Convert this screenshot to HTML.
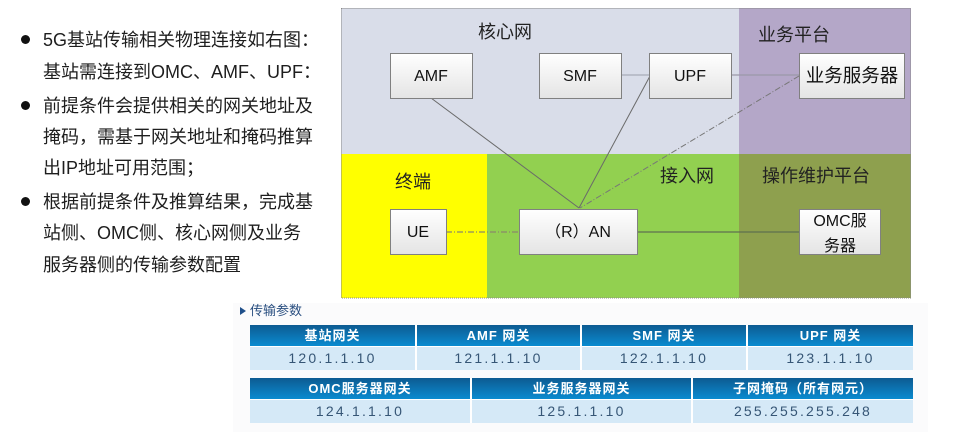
<!DOCTYPE html>
<html>
<head>
<meta charset="utf-8">
<style>
  html,body{margin:0;padding:0;}
  body{width:956px;height:437px;position:relative;background:#fff;overflow:hidden;
       font-family:"Liberation Sans","Noto Sans CJK SC",sans-serif;}
  .bl{position:absolute;left:43px;font-size:18px;color:#1e1e1e;line-height:20px;white-space:nowrap;
      font-family:"Liberation Sans","Noto Sans CJK SC",sans-serif;}
  .dot{position:absolute;left:21px;width:9px;height:9px;border-radius:50%;background:#111;}
  .wm{position:absolute;left:233px;top:303px;width:695px;height:129px;background:#fbfbfc;}
  .lbl{position:absolute;left:250px;top:302px;font-size:13px;color:#2a4f80;line-height:18px;}
  .tri{position:absolute;left:240px;top:307px;width:0;height:0;border-top:4px solid transparent;border-bottom:4px solid transparent;border-left:6px solid #1f4f8a;}
  table{position:absolute;border-collapse:collapse;table-layout:fixed;}
  td{padding:0;text-align:center;border-right:2px solid #fff;overflow:hidden;white-space:nowrap;}
  td:last-child{border-right:none;}
  .h td{height:21px;background:linear-gradient(#0d5b92,#0a8bd0);color:#fff;font-size:13px;font-weight:bold;letter-spacing:1px;line-height:21px;}
  .v td{height:23px;background:#d5e9f7;color:#365676;font-size:14px;letter-spacing:2.2px;line-height:23px;border-top:1px solid #fff;}
</style>
</head>
<body>
<div class="dot" style="top:35px"></div>
<div class="bl" style="top:30px">5G基站传输相关物理连接如右图：</div>
<div class="bl" style="top:62px">基站需连接到OMC、AMF、UPF：</div>
<div class="dot" style="top:101px"></div>
<div class="bl" style="top:96px">前提条件会提供相关的网关地址及</div>
<div class="bl" style="top:127px">掩码，需基于网关地址和掩码推算</div>
<div class="bl" style="top:158px">出IP地址可用范围；</div>
<div class="dot" style="top:197px"></div>
<div class="bl" style="top:192px">根据前提条件及推算结果，完成基</div>
<div class="bl" style="top:223px">站侧、OMC侧、核心网侧及业务</div>
<div class="bl" style="top:255px">服务器侧的传输参数配置</div>

<svg style="position:absolute;left:0;top:0" width="956" height="437" xmlns="http://www.w3.org/2000/svg">
  <defs>
    <linearGradient id="bx" x1="0" y1="0" x2="0" y2="1">
      <stop offset="0" stop-color="#ffffff"/>
      <stop offset="1" stop-color="#e4e4e4"/>
    </linearGradient>
  </defs>
  <rect x="341" y="8" width="398" height="146" fill="#d9dde9"/>
  <rect x="739" y="8" width="172" height="146" fill="#b4a7c8"/>
  <rect x="341" y="154" width="146" height="144" fill="#ffff00"/>
  <rect x="487" y="154" width="252" height="144" fill="#92d050"/>
  <rect x="739" y="154" width="172" height="144" fill="#8ea04e"/>
  <rect x="341.5" y="8.5" width="569" height="289.5" fill="none" stroke="#8a8a8a" stroke-width="1" stroke-dasharray="1,1"/>

  <g font-family="'Liberation Sans','Noto Sans CJK SC',sans-serif" font-size="18" fill="#222">
    <text x="505" y="38" text-anchor="middle">核心网</text>
    <text x="758" y="41">业务平台</text>
    <text x="395" y="188">终端</text>
    <text x="660" y="182">接入网</text>
    <text x="762" y="182">操作维护平台</text>
  </g>

  <!-- connectors -->
  <line x1="621" y1="75" x2="649" y2="75" stroke="#a9acb8" stroke-width="1.2"/>
  <line x1="731" y1="75" x2="799" y2="75" stroke="#9a98a8" stroke-width="1.2"/>
  <line x1="431" y1="98" x2="579" y2="208" stroke="#6a6a6a" stroke-width="1"/>
  <line x1="650" y1="76" x2="579" y2="208" stroke="#6a6a6a" stroke-width="1"/>
  <line x1="799" y1="76" x2="580" y2="208" stroke="#777" stroke-width="1" stroke-dasharray="6,2,1,2"/>
  <line x1="446" y1="232" x2="519" y2="232" stroke="#8a8a6a" stroke-width="1.2" stroke-dasharray="6,2,1,2"/>
  <line x1="637" y1="232" x2="799" y2="232" stroke="#5f6f4f" stroke-width="1.3"/>

  <!-- boxes -->
  <g stroke="#808080" stroke-width="1" fill="url(#bx)">
    <rect x="390.5" y="53.5" width="82" height="45"/>
    <rect x="539.5" y="53.5" width="82" height="45"/>
    <rect x="649.5" y="53.5" width="82" height="45"/>
    <rect x="799.5" y="53.5" width="105" height="45"/>
    <rect x="390.5" y="209.5" width="56" height="45"/>
    <rect x="519.5" y="209.5" width="118" height="45"/>
    <rect x="799.5" y="209.5" width="81" height="45"/>
  </g>
  <g font-family="'Liberation Sans','Noto Sans CJK SC',sans-serif" font-size="16" fill="#111" text-anchor="middle">
    <text x="431" y="81">AMF</text>
    <text x="580" y="81">SMF</text>
    <text x="690" y="81">UPF</text>
    <text x="852" y="82" font-size="18.5">业务服务器</text>
    <text x="418" y="237">UE</text>
    <text x="578" y="237">（R）AN</text>
    <text x="840" y="226">OMC服</text>
    <text x="840" y="251">务器</text>
  </g>
</svg>

<div class="wm"></div>
<div class="tri"></div>
<div class="lbl">传输参数</div>

<table style="left:250px;top:325px;width:663px;">
  <colgroup><col style="width:166px"><col style="width:165px"><col style="width:166px"><col style="width:166px"></colgroup>
  <tr class="h"><td>基站网关</td><td>AMF 网关</td><td>SMF 网关</td><td>UPF 网关</td></tr>
  <tr class="v"><td>120.1.1.10</td><td>121.1.1.10</td><td>122.1.1.10</td><td>123.1.1.10</td></tr>
</table>

<table style="left:250px;top:378px;width:663px;">
  <colgroup><col style="width:221px"><col style="width:221px"><col style="width:221px"></colgroup>
  <tr class="h"><td>OMC服务器网关</td><td>业务服务器网关</td><td>子网掩码（所有网元）</td></tr>
  <tr class="v"><td>124.1.1.10</td><td>125.1.1.10</td><td>255.255.255.248</td></tr>
</table>
</body>
</html>
